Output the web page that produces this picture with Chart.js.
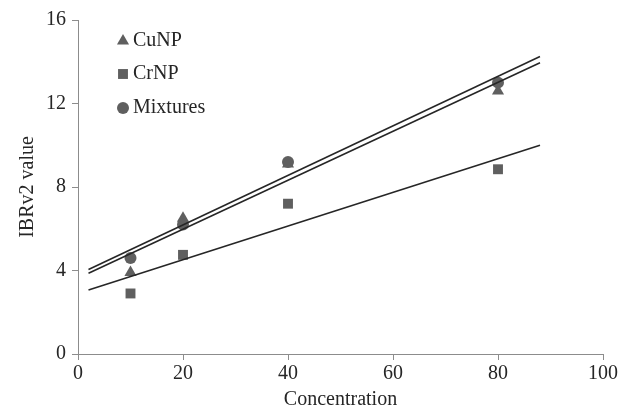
<!DOCTYPE html>
<html>
<head>
<meta charset="utf-8">
<script src="https://cdn.jsdelivr.net/npm/chart.js@4.4.0/dist/chart.umd.min.js"></script>
<style>
  html, body { margin: 0; padding: 0; background: #fff; }
  #wrap { width: 621px; height: 414px; position: relative; }
</style>
</head>
<body>
<div id="wrap"><canvas id="chart" width="621" height="414"></canvas></div>
<script>
// values
const concentrations = [10, 20, 40, 80];
const cuNP = [3.9, 6.5, 9.1, 12.6];
const crNP = [2.9, 4.75, 7.2, 8.85];
const mixtures = [4.6, 6.2, 9.2, 13.0];

// trend line end points (x = 2 and x = 88)
const trendX = [2, 88];
const trendMixtures = [4.05, 14.25];
const trendCuNP = [3.87, 13.95];
const trendCrNP = [3.07, 10.0];

const xTicks = [0, 20, 40, 60, 80, 100];
const yTicks = [0, 4, 8, 12, 16];

const markerColor = '#5f5f5f';
const lineColor = '#262626';
const axisColor = '#8c8c8c';
const font = 'Liberation Serif';

const toPoints = (xs, ys) => xs.map((x, i) => ({ x: x, y: ys[i] }));

const scatter = (label, data, style, radius) => ({
  label: label,
  data: toPoints(concentrations, data),
  pointStyle: style,
  pointRadius: radius,
  pointHoverRadius: radius,
  backgroundColor: markerColor,
  borderColor: markerColor,
  borderWidth: 0,
  showLine: false
});

const trend = (data) => ({
  label: '',
  data: toPoints(trendX, data),
  showLine: true,
  pointRadius: 0,
  borderColor: lineColor,
  borderWidth: 1.6,
  fill: false
});

// legend drawn inside the plot, top left
const innerLegend = {
  id: 'innerLegend',
  afterDraw(chart) {
    const ctx = chart.ctx;
    const rows = [
      { text: 'CuNP', style: 'triangle', r: 7, y: 40 },
      { text: 'CrNP', style: 'rect', r: 7, y: 73 },
      { text: 'Mixtures', style: 'circle', r: 6, y: 107 }
    ];
    ctx.save();
    ctx.font = '20px "' + font + '"';
    ctx.textBaseline = 'middle';
    rows.forEach(row => {
      ctx.fillStyle = markerColor;
      Chart.helpers.drawPoint(ctx, { pointStyle: row.style, radius: row.r, borderWidth: 0 }, 123, row.y + 1);
      ctx.fillStyle = '#262626';
      ctx.fillText(row.text, 133, row.y + 1);
    });
    ctx.restore();
  }
};

new Chart(document.getElementById('chart'), {
  type: 'scatter',
  data: {
    datasets: [
      trend(trendMixtures),
      trend(trendCuNP),
      trend(trendCrNP),
      scatter('CrNP', crNP, 'rect', 7),
      scatter('Mixtures', mixtures, 'circle', 6),
      scatter('CuNP', cuNP, 'triangle', 7)
    ]
  },
  options: {
    responsive: false,
    animation: false,
    layout: { padding: { top: 20, right: 18, left: 16, bottom: 2 } },
    plugins: {
      legend: { display: false },
      tooltip: { enabled: false }
    },
    scales: {
      x: {
        type: 'linear',
        min: 0,
        max: 100,
        afterBuildTicks: axis => { axis.ticks = xTicks.map(v => ({ value: v })); },
        grid: { drawOnChartArea: false, drawTicks: true, tickLength: 6, color: axisColor },
        border: { color: axisColor, width: 1 },
        ticks: { color: '#262626', font: { family: font, size: 20 }, padding: 2, maxRotation: 0 },
        title: { display: true, text: 'Concentration', color: '#262626', font: { family: font, size: 20 }, padding: { top: 0, bottom: 0 } }
      },
      y: {
        type: 'linear',
        min: 0,
        max: 16,
        afterBuildTicks: axis => { axis.ticks = yTicks.map(v => ({ value: v })); },
        grid: { drawOnChartArea: false, drawTicks: true, tickLength: 6, color: axisColor },
        border: { color: axisColor, width: 1 },
        ticks: { color: '#262626', font: { family: font, size: 20 }, padding: 6 },
        title: { display: true, text: 'IBRv2 value', color: '#262626', font: { family: font, size: 20 }, padding: { top: 0, bottom: 0 } }
      }
    }
  },
  plugins: [innerLegend]
});
</script>
</body>
</html>
